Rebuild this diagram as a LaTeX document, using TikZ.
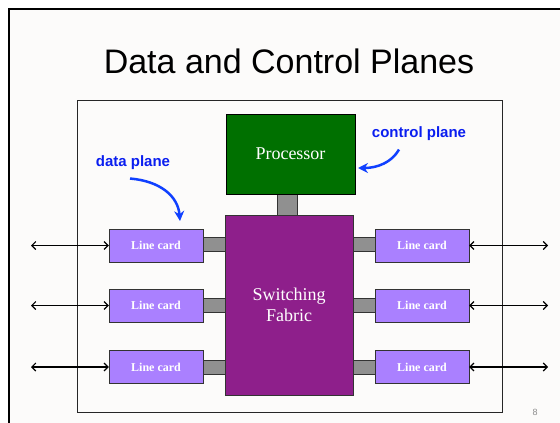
\documentclass[tikz,border=0pt]{standalone}
\usepackage{fontspec}
\setmainfont{Liberation Serif}
\newfontfamily\slidesans{Liberation Sans}
\usetikzlibrary{arrows.meta}
\definecolor{procgreen}{HTML}{007000}
\definecolor{fabricpurple}{HTML}{8E1F8B}
\definecolor{cardlilac}{HTML}{AA80FF}
\definecolor{linkgrey}{HTML}{909090}
\definecolor{slidebg}{HTML}{FCFBFA}
\definecolor{noteblue}{HTML}{0A1EF0}
\definecolor{pointblue}{HTML}{1040FF}
\begin{document}
\begin{tikzpicture}[x=1pt,y=-1pt,
  card/.style={draw=black!80, fill=cardlilac, minimum width=94pt, minimum height=33pt,
    inner sep=0pt, text=white, font=\bfseries\fontsize{12}{12}\selectfont},
  link/.style={draw=black!80, fill=linkgrey, minimum width=22pt, minimum height=14pt, inner sep=0pt},
  wire/.style={{Straight Barb[length=4pt,width=8pt]}-{Straight Barb[length=4pt,width=8pt]}, line width=1.1pt},
  note/.style={text=noteblue, font=\slidesans\bfseries\fontsize{15}{15}\selectfont},
  pointer/.style={-{Stealth[length=10pt,width=10pt]}, draw=pointblue, line width=2.5pt},
  ]
  \useasboundingbox (0,0) rectangle (560,423);
  \fill[slidebg] (9,9) rectangle (570,430);
  \draw[line width=2.3pt] (9,430) -- (9,9) -- (570,9);
  \node[font=\slidesans\fontsize{34}{34}\selectfont, anchor=base] (title) at (289,73) {Data and Control Planes};
  \node[draw=black!85, line width=0.9pt, minimum width=425pt, minimum height=312pt, inner sep=0pt] (chassis) at (289.5,256) {};

  \node[link, minimum width=20pt, minimum height=21pt] (bus) at (287,204.5) {};
  \node[link] (ll1) at (214,244.5) {};
  \node[link] (ll2) at (214,305) {};
  \node[link] (ll3) at (214,367) {};
  \node[link] (rl1) at (364,244.5) {};
  \node[link] (rl2) at (364,305) {};
  \node[link] (rl3) at (364,367) {};

  \node[draw=black, fill=procgreen, minimum width=129pt, minimum height=80pt, inner sep=0pt,
    text=white, font=\fontsize{18}{18}\selectfont] (proc) at (290.5,154) {Processor};
  \node[draw=black!80, fill=fabricpurple, minimum width=128pt, minimum height=180pt, inner sep=0pt,
    text=white, align=center, font=\fontsize{18}{21}\selectfont] (fabric) at (289,305) {Switching\\Fabric};

  \node[card] (lc1) at (156,245.5) {Line card};
  \node[card] (lc2) at (156,305.5) {Line card};
  \node[card] (lc3) at (156,367) {Line card};
  \node[card] (rc1) at (422,245.5) {Line card};
  \node[card] (rc2) at (422,305.5) {Line card};
  \node[card] (rc3) at (422,367) {Line card};

  \coordinate (lin1) at (31,245.5);
  \coordinate (lin2) at (31,305.5);
  \coordinate (lin3) at (31,367);
  \coordinate (rin1) at (548,245.5);
  \coordinate (rin2) at (548,305.5);
  \coordinate (rin3) at (548,367);
  \draw[wire] (lin1) -- (lc1);
  \draw[wire] (lin2) -- (lc2);
  \draw[wire] (lin3) -- (lc3);
  \draw[wire] (rc1) -- (rin1);
  \draw[wire] (rc2) -- (rin2);
  \draw[wire] (rc3) -- (rin3);

  \node[note] (dnote) at (133,163) {data plane};
  \node[note] (cnote) at (419,134) {control plane};
  \coordinate (dtip) at (180,221);
  \coordinate (ctip) at (358,168);
  \draw[pointer] ([xshift=-3pt,yshift=-5pt]dnote.south) .. controls (160,181) and (178,196) .. (dtip);
  \draw[pointer] ([xshift=-20pt,yshift=-5pt]cnote.south) .. controls (392,162) and (378,168) .. (ctip);

  \node[text=black!45, font=\slidesans\fontsize{9}{9}\selectfont] (pagenum) at (535,412) {8};
\end{tikzpicture}
\end{document}
